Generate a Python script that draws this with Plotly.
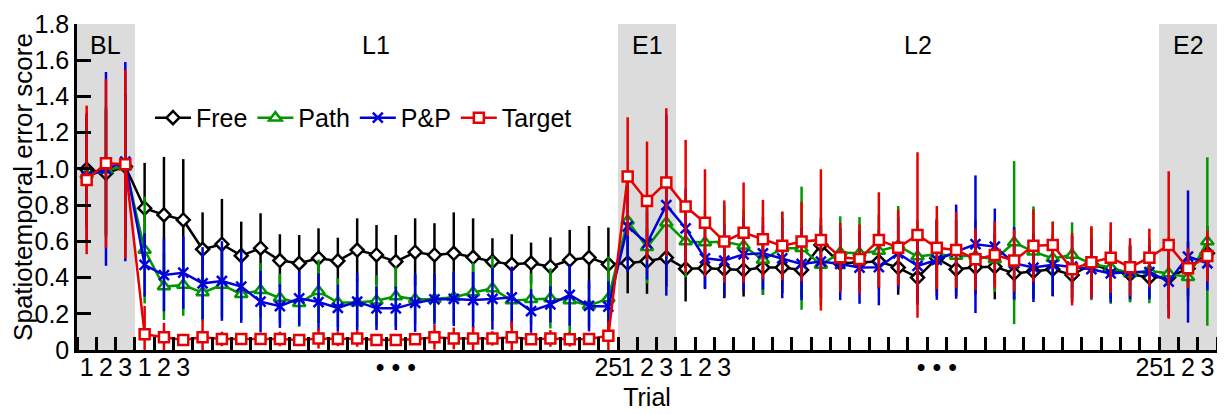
import plotly.graph_objects as go

# ---------------- data ----------------
phases = ["BL", "L1", "E1", "L2", "E2"]
phase_trials = [3, 25, 3, 25, 3]

free_mean = [0.998, 0.976, 1.013,
             0.783, 0.746, 0.718, 0.556, 0.584, 0.521, 0.562, 0.494, 0.479, 0.507, 0.492, 0.552, 0.525,
             0.488, 0.540, 0.525, 0.534, 0.512, 0.488, 0.473, 0.480, 0.460, 0.497, 0.510, 0.473,
             0.480, 0.490, 0.510,
             0.448, 0.451, 0.446, 0.442, 0.455, 0.455, 0.442, 0.580, 0.479, 0.483, 0.488, 0.455, 0.400,
             0.506, 0.446, 0.457, 0.460, 0.423, 0.433, 0.446, 0.414, 0.473, 0.442, 0.418, 0.401,
             0.401, 0.450, 0.534]
free_err = [0.30, 0.35, 0.40,
            0.250, 0.320, 0.336, 0.204, 0.250, 0.188, 0.193, 0.145, 0.156, 0.165, 0.128, 0.175, 0.165,
            0.147, 0.187, 0.175, 0.226, 0.215, 0.129, 0.166, 0.113, 0.162, 0.166, 0.175, 0.203,
            0.167, 0.180, 0.160,
            0.18, 0.11, 0.16, 0.147, 0.15, 0.14, 0.15, 0.15, 0.15, 0.15, 0.15, 0.15, 0.15,
            0.21, 0.15, 0.15, 0.18, 0.15, 0.15, 0.15, 0.15, 0.15, 0.16, 0.15, 0.11,
            0.12, 0.15, 0.15]

path_mean = [0.967, 0.994, 1.013,
             0.552, 0.350, 0.359, 0.317, 0.359, 0.308, 0.330, 0.287, 0.258, 0.324, 0.262, 0.262, 0.272,
             0.296, 0.280, 0.282, 0.291, 0.317, 0.340, 0.273, 0.280, 0.285, 0.274, 0.245, 0.285,
             0.713, 0.567, 0.703,
             0.599, 0.593, 0.599, 0.575, 0.497, 0.562, 0.562, 0.470, 0.538, 0.534, 0.547, 0.575, 0.516,
             0.528, 0.519, 0.519, 0.500, 0.593, 0.543, 0.506, 0.525, 0.475, 0.455, 0.423, 0.438,
             0.423, 0.401, 0.599]
path_err = [0.30, 0.35, 0.40,
            0.295, 0.184, 0.170, 0.160, 0.180, 0.140, 0.150, 0.135, 0.130, 0.175, 0.135, 0.135, 0.140,
            0.165, 0.134, 0.127, 0.142, 0.165, 0.180, 0.137, 0.143, 0.166, 0.184, 0.120, 0.230,
            0.22, 0.20, 0.20,
            0.20, 0.18, 0.20, 0.20, 0.19, 0.20, 0.34, 0.22, 0.20, 0.20, 0.20, 0.22, 0.20,
            0.20, 0.20, 0.20, 0.18, 0.45, 0.25, 0.20, 0.18, 0.20, 0.20, 0.16, 0.18,
            0.20, 0.13, 0.465]

pp_mean = [0.958, 1.000, 1.040,
           0.470, 0.414, 0.427, 0.368, 0.381, 0.350, 0.267, 0.242, 0.285, 0.265, 0.232, 0.267, 0.230,
           0.230, 0.260, 0.280, 0.282, 0.276, 0.282, 0.291, 0.215, 0.252, 0.304, 0.243, 0.240,
           0.682, 0.589, 0.800,
           0.672, 0.506, 0.494, 0.528, 0.534, 0.506, 0.475, 0.488, 0.475, 0.455, 0.457, 0.534, 0.464,
           0.497, 0.543, 0.584, 0.571, 0.479, 0.455, 0.470, 0.460, 0.446, 0.423, 0.430, 0.430,
           0.378, 0.516, 0.479]
pp_err = [0.35, 0.535, 0.55,
          0.175, 0.20, 0.20, 0.20, 0.22, 0.20, 0.17, 0.12, 0.15, 0.157, 0.13, 0.157, 0.12,
          0.12, 0.16, 0.14, 0.15, 0.155, 0.17, 0.17, 0.12, 0.10, 0.17, 0.14, 0.14,
          0.25, 0.20, 0.50,
          0.22, 0.17, 0.20, 0.20, 0.20, 0.22, 0.20, 0.20, 0.20, 0.20, 0.21, 0.20, 0.20,
          0.22, 0.26, 0.38, 0.21, 0.20, 0.19, 0.17, 0.17, 0.16, 0.16, 0.15, 0.15,
          0.20, 0.365, 0.15]

target_mean = [0.939, 1.031, 1.026,
               0.087, 0.070, 0.055, 0.070, 0.061, 0.061, 0.061, 0.061, 0.055, 0.064, 0.061, 0.064, 0.055,
               0.055, 0.059, 0.070, 0.064, 0.064, 0.064, 0.070, 0.059, 0.064, 0.059, 0.061, 0.079,
               0.958, 0.823, 0.925,
               0.792, 0.703, 0.599, 0.648, 0.611, 0.575, 0.599, 0.608, 0.512, 0.503, 0.608, 0.565, 0.635,
               0.565, 0.552, 0.501, 0.525, 0.494, 0.576, 0.580, 0.446, 0.484, 0.510, 0.457, 0.510,
               0.580, 0.451, 0.519]
target_err = [0.41, 0.466, 0.52,
              0.156, 0.08, 0.02, 0.095, 0.04, 0.03, 0.03, 0.04, 0.03, 0.056, 0.04, 0.046, 0.03,
              0.03, 0.03, 0.068, 0.06, 0.065, 0.04, 0.087, 0.03, 0.046, 0.04, 0.03, 0.08,
              0.327, 0.328, 0.41,
              0.368, 0.295, 0.227, 0.277, 0.218, 0.19, 0.22, 0.39, 0.19, 0.19, 0.263, 0.21, 0.457,
              0.23, 0.21, 0.17, 0.185, 0.17, 0.20, 0.13, 0.20, 0.20, 0.195, 0.16, 0.16,
              0.407, 0.11, 0.14]

y_tick_vals = [0, 0.2, 0.4, 0.6, 0.8, 1.0, 1.2, 1.4, 1.6, 1.8]
y_tick_text = ["0", "0.2", "0.4", "0.6", "0.8", "1.0", "1.2", "1.4", "1.6", "1.8"]

# ---------------- derived positions ----------------
x = list(range(1, sum(phase_trials) + 1))
tick_text = []
for name, n in zip(phases, phase_trials):
    for t in range(1, n + 1):
        if t <= 3 or t == n:
            tick_text.append(str(t))
        elif n > 3 and t == 14:
            tick_text.append("• • •")
        else:
            tick_text.append("")

starts = []
s = 0
for n in phase_trials:
    starts.append(s)
    s += n

FONT = "Liberation Sans, Arial, sans-serif"
fig = go.Figure()

series = [
    ("Free", free_mean, free_err, "#000000", "diamond", 10, "white"),
    ("Path", path_mean, path_err, "#009600", "triangle-up", 11, "white"),
    ("P&P", pp_mean, pp_err, "#0000DC", "x-thin", 10, "#0000DC"),
    ("Target", target_mean, target_err, "#E60000", "square", 10, "white"),
]
for name, m, e, col, sym, size, fill in series:
    fig.add_trace(go.Scatter(
        x=x, y=m, name=name, mode="lines+markers",
        line=dict(color=col, width=2.5),
        marker=dict(symbol=sym, size=size, color=fill, line=dict(color=col, width=2.5)),
        error_y=dict(type="data", array=e, width=0, thickness=2.5, color=col),
        cliponaxis=True,
    ))

# shaded phases and labels
for name, n, st in zip(phases, phase_trials, starts):
    if name.startswith("E") or name == "BL":
        fig.add_shape(type="rect", xref="x", yref="paper", x0=st + 0.5, x1=st + n + 0.5,
                      y0=0, y1=1, fillcolor="#DCDCDC", line=dict(width=0), layer="below")
    cx = st + 2 if n == 3 else st + 13
    fig.add_annotation(x=cx, y=0.935, xref="x", yref="paper", text=name, showarrow=False,
                       font=dict(family=FONT, size=25, color="black"), yanchor="middle")

# page body has an 8px margin, so the figure is sized/offset to land on the 1225x414 frame
fig.update_layout(
    width=1217, height=406,
    margin=dict(l=69, r=8, t=16, b=64, autoexpand=False),
    plot_bgcolor="white", paper_bgcolor="white",
    font=dict(family=FONT, size=25, color="black"),
    showlegend=True,
    legend=dict(orientation="h", x=0.064, y=0.712, xanchor="left", yanchor="middle",
                bgcolor="rgba(0,0,0,0)", font=dict(family=FONT, size=25, color="black"),
                itemwidth=36),
    xaxis=dict(range=[0.5, 59.5], tickmode="array", tickvals=x, ticktext=tick_text,
               tickangle=0, automargin=False, ticklabelstandoff=-7,
               ticks="", showline=True, linecolor="black", linewidth=2.5, showgrid=False,
               zeroline=False, tickfont=dict(family=FONT, size=25, color="black"),
               minor=dict(tickmode="array", tickvals=[v + 0.5 for v in [0] + x],
                          ticks="inside", ticklen=13, tickwidth=2.5, tickcolor="black",
                          showgrid=False),
               title=dict(text="Trial", font=dict(family=FONT, size=25, color="black"), standoff=9)),
    yaxis=dict(range=[0, 1.8], tickmode="array", tickvals=y_tick_vals, ticktext=y_tick_text,
               automargin=False,
               ticks="inside", ticklen=14, tickwidth=2.5, tickcolor="black",
               showline=True, linecolor="black", linewidth=2.5, showgrid=False, zeroline=False,
               tickfont=dict(family=FONT, size=25, color="black"),
               title=dict(text="Spatiotemporal error score",
                          font=dict(family=FONT, size=26, color="black"), standoff=4)),
)

fig.write_html("out.html")
